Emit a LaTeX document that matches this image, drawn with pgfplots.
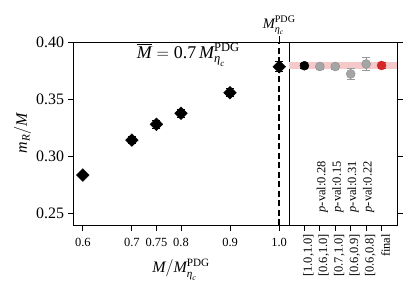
\documentclass[border=0pt]{standalone}
\usepackage{amsmath}
\usepackage{fontspec}
\setmainfont{Liberation Serif}
\usepackage{pgfplots}
\pgfplotsset{compat=1.18}
\definecolor{tabred}{RGB}{214,39,40}
\definecolor{band}{RGB}{245,201,201}
\definecolor{gpt}{RGB}{165,165,165}
\pgfplotstableread{
x y e
0.6 0.2833 0.0015
0.7 0.3140 0.003
0.75 0.3278 0.0035
0.8 0.3375 0.0035
0.9 0.3555 0.0035
1.0 0.3783 0.0045
}\leftdata
\pgfplotstableread{
x y e
1 0.3785 0.0022
2 0.3785 0.0022
3 0.3720 0.0050
4 0.3807 0.0058
}\graydata
\newcommand{\Mpdg}{\textit{M}^{\textrm{PDG}}_{\textit{η}_{\textit{c}}}}
\begin{document}
\begin{tikzpicture}
\pgfplotsset{
  every axis/.append style={
    scale only axis,
    height=183bp,
    ymin=0.2395, ymax=0.40,
    ytick={0.25,0.30,0.35,0.40},
    tick align=outside,
    major tick length=5.5bp,
    axis line style={line width=0.9pt},
    every tick/.style={black, line width=0.9pt},
    /pgf/number format/assume math mode=true,
  }
}
\begin{axis}[
  at={(0,0)}, anchor=south west,
  width=216bp,
  xmin=0.58, xmax=1.02,
  xtick={0.6,0.7,0.75,0.8,0.9,1.0},
  xticklabels={0.6,0.7,0.75,0.8,0.9,1.0},
  yticklabels={0.25,0.30,0.35,0.40},
  xtick pos=bottom, ytick pos=left,
  xticklabel style={font=\fontsize{12.5}{14}\selectfont, yshift=-4bp},
  yticklabel style={font=\fontsize{16}{18}\selectfont},
  xlabel={$\textit{M}/\Mpdg$},
  ylabel={$\textit{m}_{\textit{R}}/\textit{M}$},
  xlabel style={font=\fontsize{16}{18}\selectfont, yshift=-6bp},
  ylabel style={font=\fontsize{16}{18}\selectfont, yshift=-2bp},
  clip=false,
]
\draw[line width=1.6pt, dash pattern=on 6bp off 3.5bp] (axis cs:1.0,0.2395) -- (axis cs:1.0,0.40);
\draw[line width=0.9pt] (axis cs:1.0,0.40) -- ([yshift=5.5bp]axis cs:1.0,0.40);
\node[anchor=south, font=\fontsize{14.5}{16}\selectfont, inner sep=1bp] at ([yshift=6bp]axis cs:1.0,0.40) {$\Mpdg$};
\node[font=\fontsize{18}{20}\selectfont] at (axis cs:0.815,0.3888) {$\overline{\textit{M}}=\textrm{0.7}\,\Mpdg$};
\addplot[only marks, black, mark=square*, mark size=4.5bp, mark options={rotate=45},
  error bars/.cd, y dir=both, y explicit,
  error bar style={line width=1pt, black},
  error mark options={rotate=90, line width=1pt, mark size=4bp, black}]
  table[x=x, y=y, y error=e] {\leftdata};
\end{axis}
\begin{axis}[
  at={(216bp,0)}, anchor=south west,
  width=108bp,
  xmin=-1, xmax=6,
  xtick={0,1,2,3,4,5},
  xticklabels={{[1.0,1.0]},{[0.6,1.0]},{[0.7,1.0]},{[0.6,0.9]},{[0.6,0.8]},final},
  xtick pos=bottom, ytick pos=right,
  yticklabels={},
  xticklabel style={rotate=90, anchor=east, font=\fontsize{12.5}{14}\selectfont, yshift=-4bp},
  clip=false,
]
\addplot[draw=none, fill=band] coordinates {(-1,0.3764) (6,0.3764) (6,0.3824) (-1,0.3824)};
\addplot[only marks, black, mark=*, mark size=4.5bp,
  error bars/.cd, y dir=both, y explicit,
  error bar style={line width=1pt, black},
  error mark options={rotate=90, line width=1pt, mark size=4bp, black}]
  coordinates {(0,0.3792) +- (0,0.0022)};
\addplot[only marks, gpt, mark=*, mark size=4.5bp, mark options={fill=gpt, draw=black!45},
  error bars/.cd, y dir=both, y explicit,
  error bar style={line width=1pt, black!40},
  error mark options={rotate=90, line width=1pt, mark size=4bp, black!40}]
  table[x=x, y=y, y error=e] {\graydata};
\addplot[only marks, tabred, mark=*, mark size=4.5bp,
  error bars/.cd, y dir=both, y explicit,
  error bar style={line width=1pt, tabred},
  error mark options={rotate=90, line width=1pt, mark size=4bp, tabred}]
  coordinates {(5,0.3794) +- (0,0.003)};
\foreach \i/\p in {1/0.28,2/0.15,3/0.31,4/0.22}{
  \edef\tmp{\noexpand\node[rotate=90, anchor=west, inner sep=0pt, font=\noexpand\fontsize{12.5}{14}\noexpand\selectfont] at ([xshift=2.5bp]axis cs:\i,0.2505) {\noexpand\textit{p}-val:\p};}
  \tmp
}
\end{axis}
\pgfresetboundingbox
\path[use as bounding box] (-73bp,-69bp) rectangle (342bp,225bp);
\end{tikzpicture}
\end{document}
